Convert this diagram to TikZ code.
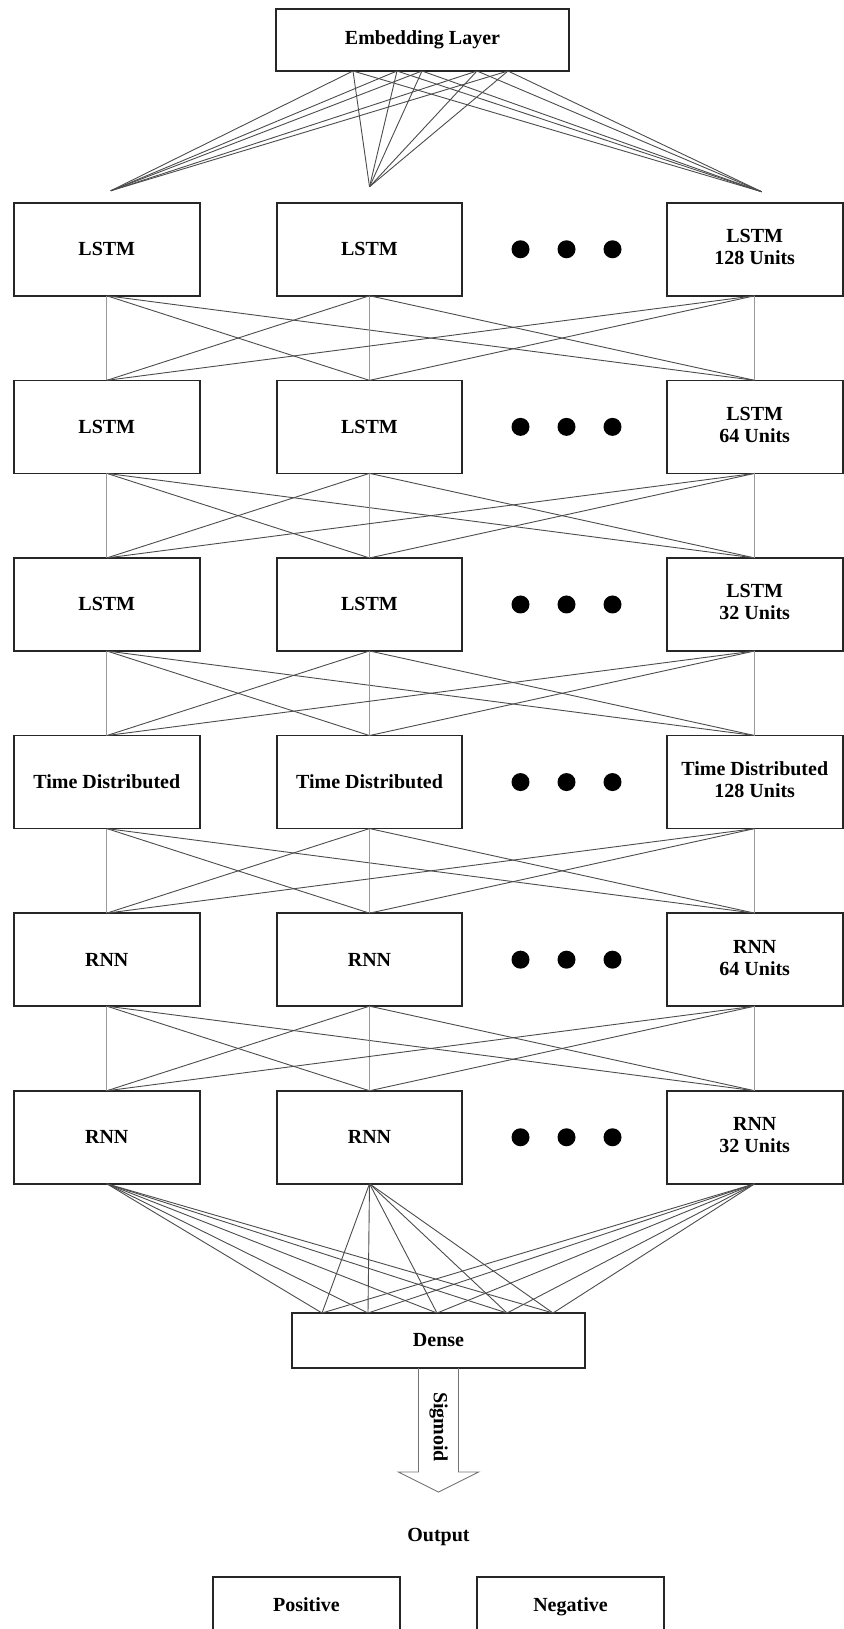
\documentclass[tikz,border=0pt]{standalone}
\usepackage{fontspec}
\setmainfont{Liberation Serif}
\usetikzlibrary{positioning,matrix,calc}

\tikzset{
    ampersand replacement = \amp,
    boxline/.style={draw=black!85, line width=0.85pt},
    layerbox/.style={boxline, align=center, inner sep=2pt, outer sep=0pt},
    wire/.style={black!70, line width=0.45pt},
    straightwire/.style={black!40, line width=0.4pt},
    blockarrow/.style={black!55, line width=0.45pt}
}
\newcommand{\layerunits}[2]{\begin{tabular}{@{}c@{}}#1\\#2\end{tabular}}

\begin{document}
\begin{tikzpicture}[x={(0.5pt,0)}, y={(0,-0.5pt)},
    every node/.append style={font=\fontsize{10pt}{11pt}\selectfont\bfseries}]
    \useasboundingbox (0,0) rectangle (843,1629);

    \node[layerbox, minimum width=146.5pt, minimum height=31pt] (embed) at (422.5,40) {Embedding Layer};

    \matrix (m)
        [matrix of nodes,
        matrix anchor=north west,
        inner sep=0pt,
        nodes={layerbox, anchor=center, minimum height=46.5pt},
        nodes in empty cells,
        column sep=37.65pt,
        row sep=41.45pt,
        column 1/.style={nodes={minimum width=93pt}},
        column 2/.style={nodes={minimum width=92.75pt}},
        column 3/.style={nodes={draw=none, minimum width=26.1pt}},
        column 4/.style={nodes={minimum width=88pt}}
        ] at (12.5,201.5)
    {
        LSTM\amp LSTM\amp \amp \layerunits{LSTM}{128 Units}\\
        LSTM\amp LSTM\amp \amp \layerunits{LSTM}{64 Units}\\
        LSTM\amp LSTM\amp \amp \layerunits{LSTM}{32 Units}\\
        Time Distributed\amp Time Distributed\amp \amp \layerunits{Time Distributed}{128 Units}\\
        RNN\amp RNN\amp \amp \layerunits{RNN}{64 Units}\\
        RNN\amp RNN\amp \amp \layerunits{RNN}{32 Units}\\
    };

    \node[layerbox, minimum width=146.5pt, minimum height=27.5pt] (dense) at (438.5,1340.5) {Dense};

    % dots in the empty column
    \foreach \r in {1,...,6}
        \foreach \k in {-1,0,1}
            \fill ($(m-\r-3)+(\k*46+2,0)$) circle (4.5pt);

    % embedding fan
    \foreach \dx [count=\e] in {-69.5,-25.5,-0.5,54.5,85.5}
        \coordinate (e\e) at ($(embed.south)+(\dx,0)$);
    \coordinate (a1) at ($(m-1-1.north)+(4,-12)$);
    \coordinate (a2) at ($(m-1-2.north)+(0,-16)$);
    \coordinate (a4) at ($(m-1-4.north)+(7,-11)$);
    \foreach \e in {1,...,5}
        \foreach \a in {1,2,4}
            \draw[wire] (e\e) -- (a\a);

    % layer to layer
    \foreach \r [count=\n from 2] in {1,...,5}
        \foreach \i in {1,2,4}
            \foreach \j in {1,2,4}{
                \ifnum\i=\j
                    \draw[straightwire] (m-\r-\i.south) -- (m-\n-\j.north);
                \else
                    \draw[wire] (m-\r-\i.south) -- (m-\n-\j.north);
                \fi
            }

    % dense fan
    \foreach \dx [count=\d] in {-116.5,-70.5,-1.5,68.5,114.5}
        \coordinate (d\d) at ($(dense.north)+(\dx,0)$);
    \foreach \c in {1,2,4}
        \foreach \d in {1,...,5}
            \draw[wire] (m-6-\c.south) -- (d\d);

    % sigmoid block arrow
    \draw[blockarrow] ($(dense.south)+(-20,0)$) -- ++(0,104) -- ++(-20,0) -- ++(40,20)
        -- ++(40,-20) -- ++(-20,0) -- ++(0,-104);
    \node[rotate=-90, inner sep=0pt] (sig) at ($(dense.south)+(0,59)$) {Sigmoid};

    \node (out) at (438.5,1537) {Output};

    \node[anchor=base] (pos) at (306.5,1611) {Positive};
    \node[anchor=base] (neg) at (570.5,1611) {Negative};
    \draw[boxline] (213,1629) |- (400,1577) -- (400,1629);
    \draw[boxline] (477,1629) |- (664,1577) -- (664,1629);
\end{tikzpicture}
\end{document}
